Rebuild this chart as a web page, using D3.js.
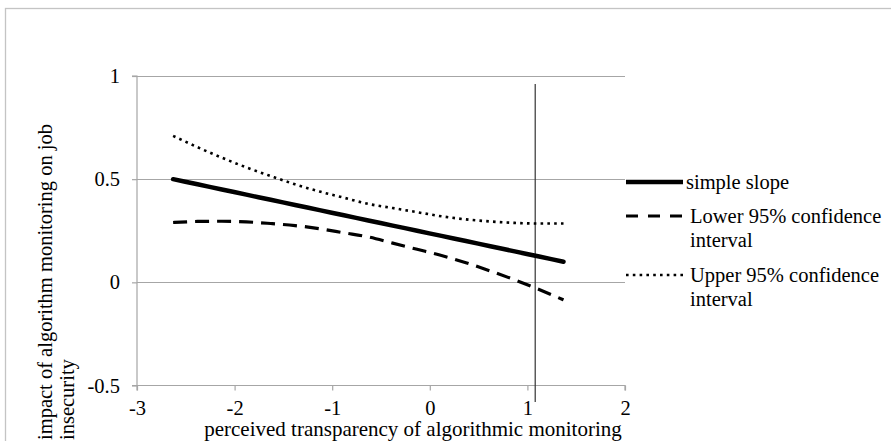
<!DOCTYPE html>
<html>
<head>
<meta charset="utf-8">
<script src="https://cdn.jsdelivr.net/npm/d3@7"></script>
<style>
  html, body { margin: 0; padding: 0; background: #fff; }
  svg { display: block; }
  svg text { font-family: 'Liberation Serif', 'Times New Roman', serif !important; }
</style>
</head>
<body>
<svg id="chart" width="891" height="441"></svg>
<script>
// ---- data ----
const xValues      = [-2.63, -2.38, -2.13, -1.88, -1.63, -1.38, -1.13, -0.88, -0.63, -0.38, -0.13, 0.12, 0.37, 0.62, 0.87, 1.12, 1.37];
const simpleSlope  = [0.500, 0.475, 0.450, 0.425, 0.400, 0.375, 0.350, 0.325, 0.300, 0.275, 0.250, 0.225, 0.200, 0.175, 0.150, 0.125, 0.100];
const lowerCI      = [0.290, 0.295, 0.296, 0.293, 0.285, 0.275, 0.260, 0.240, 0.220, 0.190, 0.160, 0.130, 0.095, 0.055, 0.012, -0.035, -0.085];
const upperCI      = [0.710, 0.655, 0.604, 0.557, 0.515, 0.475, 0.440, 0.410, 0.380, 0.360, 0.340, 0.320, 0.305, 0.295, 0.288, 0.285, 0.285];
const xTicks       = [-3, -2, -1, 0, 1, 2];
const yTicks       = [-0.5, 0, 0.5, 1];
const refLineX     = 1.08;
const seriesNames  = ["simple slope", "Lower 95% confidence|interval", "Upper 95% confidence|interval"];
const xTitle       = "perceived transparency of algorithmic monitoring";
const yTitleLines  = ["impact of algorithm monitoring on job", "insecurity"];

// ---- layout ----
const svg = d3.select("#chart");
const x = d3.scaleLinear().domain([-3, 2]).range([137, 625]);
const y = d3.scaleLinear().domain([-0.5, 1]).range([385.5, 76]);
const gridCol = "#a6a6a6";
const fs = 20.5;
const serif = "'Liberation Serif', 'Times New Roman', serif";
const fmt = d => String(d);

// outer border
svg.append("rect").attr("x", 5.5).attr("y", 8.5).attr("width", 900).attr("height", 450)
  .attr("fill", "none").attr("stroke", "#c4c4c4").attr("stroke-width", 1.3);

// gridlines
svg.append("g").selectAll("line").data(yTicks.filter(d => d > -0.5)).join("line")
  .attr("x1", x(-3)).attr("x2", x(2))
  .attr("y1", d => Math.round(y(d)) + 0.5).attr("y2", d => Math.round(y(d)) + 0.5)
  .attr("stroke", gridCol).attr("stroke-width", 1.2);

// y axis
const yAxis = svg.append("g").attr("transform", `translate(${x(-3)},0)`)
  .call(d3.axisLeft(y).tickValues(yTicks).tickSize(5).tickPadding(12).tickFormat(fmt))
  .attr("font-family", serif).attr("font-size", fs);
yAxis.select(".domain").attr("stroke", gridCol).attr("stroke-width", 1.2).attr("d", `M-5,${y(-0.5)}H0V${y(1)}H-5`);
yAxis.selectAll(".tick line").attr("stroke", gridCol).attr("stroke-width", 1.2);
yAxis.selectAll(".tick text").attr("fill", "#000").attr("font-family", serif);

// x axis
const xAxis = svg.append("g").attr("transform", `translate(0,${y(-0.5)})`)
  .call(d3.axisBottom(x).tickValues(xTicks).tickSize(5).tickPadding(10).tickFormat(fmt))
  .attr("font-family", serif).attr("font-size", fs);
xAxis.select(".domain").attr("stroke", gridCol).attr("stroke-width", 1.2).attr("d", `M${x(-3)},5V0H${x(2)}V5`);
xAxis.selectAll(".tick line").attr("stroke", gridCol).attr("stroke-width", 1.2);
xAxis.selectAll(".tick text").attr("fill", "#000").attr("font-family", serif);

// axis titles
svg.append("text").attr("x", 413).attr("y", 436).attr("text-anchor", "middle")
  .attr("font-family", serif).attr("font-size", 21).attr("fill", "#000").text(xTitle);
const yt = svg.append("g");
yTitleLines.forEach((t, i) => {
  yt.append("text")
    .attr("transform", `translate(${52 + i * 22},440) rotate(-90)`)
    .attr("text-anchor", "start").attr("font-family", serif).attr("font-size", fs)
    .attr("fill", "#000").text(t);
});

// reference vertical line
svg.append("line").attr("x1", x(refLineX)).attr("x2", x(refLineX))
  .attr("y1", 84).attr("y2", 402).attr("stroke", "#333").attr("stroke-width", 1.2);

// series
const styles = [
  { w: 4.5, dash: null, cap: "round" },
  { w: 3.2, dash: "14,8", cap: "butt" },
  { w: 2.6, dash: "2.6,4.2", cap: "butt" }
];
const seriesData = [simpleSlope, lowerCI, upperCI];
const line = d3.line().x(d => x(d[0])).y(d => y(d[1])).curve(d3.curveMonotoneX);
seriesData.forEach((vals, i) => {
  const pts = xValues.map((xv, j) => [xv, vals[j]]);
  svg.append("path").datum(pts).attr("d", line)
    .attr("fill", "none").attr("stroke", "#000").attr("stroke-width", styles[i].w)
    .attr("stroke-linecap", styles[i].cap).attr("stroke-linejoin", "round")
    .attr("stroke-dasharray", styles[i].dash);
});

// legend
const legY = [182, 216, 275];
seriesNames.forEach((name, i) => {
  const g = svg.append("g");
  g.append("line").attr("x1", 626).attr("x2", 683).attr("y1", legY[i]).attr("y2", legY[i])
    .attr("stroke", "#000").attr("stroke-width", styles[i].w)
    .attr("stroke-dasharray", i === 1 ? "12,10" : styles[i].dash).attr("stroke-linecap", "butt");
  const parts = name.split("|");
  parts.forEach((p, k) => {
    g.append("text").attr("x", i === 0 ? 686 : 690).attr("y", legY[i] + 7 + k * 24)
      .attr("font-family", serif).attr("font-size", fs).attr("fill", "#000").text(p);
  });
});
</script>
</body>
</html>
